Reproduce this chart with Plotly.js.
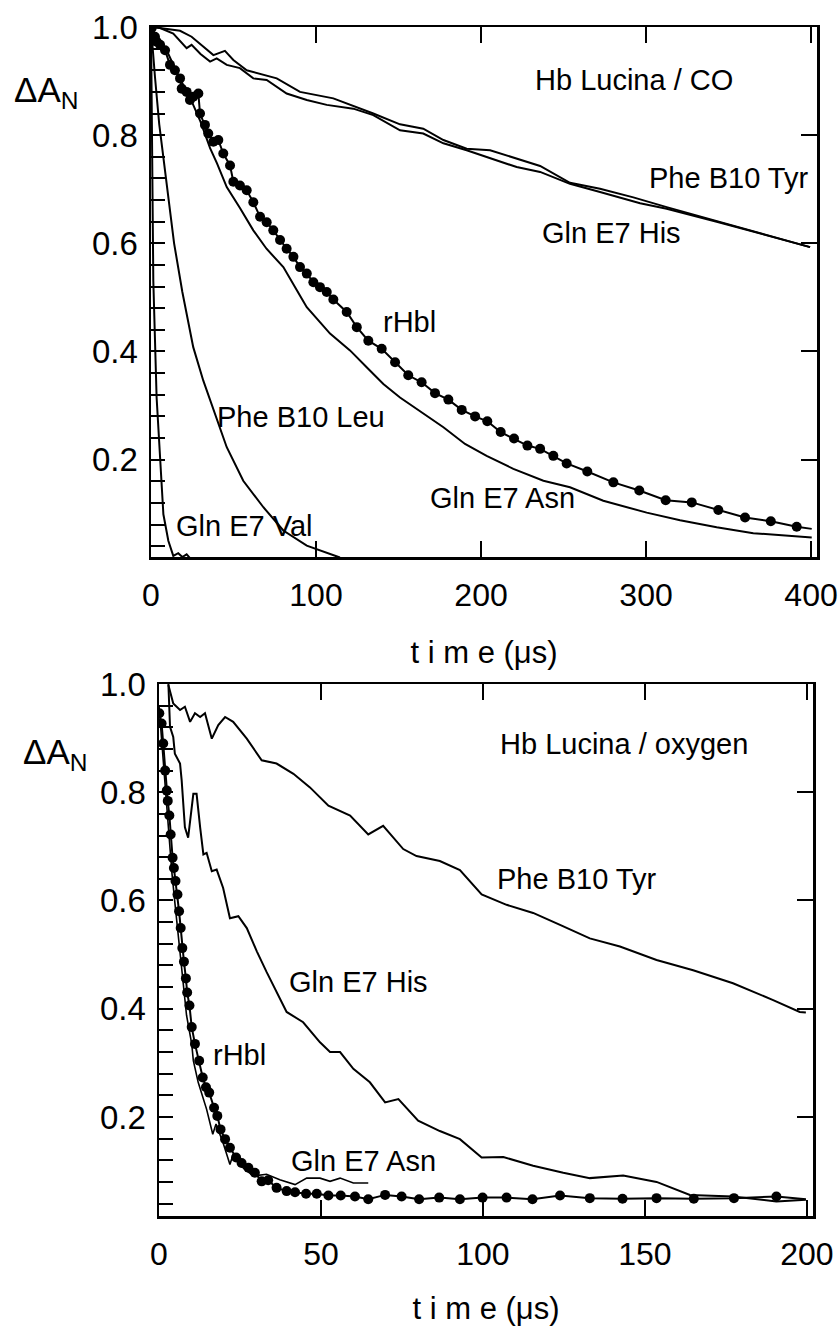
<!DOCTYPE html>
<html>
<head>
<meta charset="utf-8">
<script src="https://cdn.plot.ly/plotly-3.0.1.min.js"></script>
<style>html,body{margin:0;padding:0;background:#fff;}#chart{width:840px;height:1326px;}</style>
</head>
<body>
<div id="chart"></div>
<script>
// ---------- Top panel: Hb Lucina / CO ----------
const co_tyr_t = [1, 5.5, 17.6, 24.6, 31.7, 37.8, 44.8, 49.9, 58, 76.2, 90.3, 110.5, 134.7, 150.9, 165, 177.2, 191.3, 205.5, 235.8, 253.9, 272.1, 292.3, 312.5, 342.8, 399.4];
const co_tyr_y = [1.0, 0.998, 0.993, 0.982, 0.964, 0.948, 0.956, 0.939, 0.920, 0.905, 0.880, 0.868, 0.840, 0.820, 0.812, 0.791, 0.775, 0.772, 0.743, 0.712, 0.701, 0.685, 0.667, 0.641, 0.593];

const co_his_t = [1, 5.5, 13.5, 21.6, 24.6, 30, 35.8, 39.8, 45.9, 53.9, 62, 70.1, 82.2, 94.4, 106.5, 122.6, 134.7, 150.9, 165, 177.2, 191.3, 221.6, 235.8, 253.9, 272.1, 296.4, 312.5, 342.8, 399.4];
const co_his_y = [1.0, 0.998, 0.988, 0.961, 0.967, 0.950, 0.936, 0.942, 0.930, 0.924, 0.905, 0.902, 0.877, 0.865, 0.856, 0.849, 0.837, 0.809, 0.803, 0.785, 0.772, 0.741, 0.732, 0.710, 0.695, 0.674, 0.664, 0.640, 0.593];

const co_rhbl_t = [0.4, 2.4, 3.4, 5.5, 8.5, 11.5, 14.5, 17.6, 18.6, 21.6, 23.6, 25.6, 28.7, 29.7, 32.7, 34.7, 37.8, 40.8, 43.8, 47.9, 49.9, 53.9, 58, 62, 66.1, 70.1, 74.1, 78.2, 82.2, 86.3, 90.3, 94.4, 98.4, 102.4, 106.5, 110.5, 118.6, 124.7, 131.7, 139.8, 147.9, 155.9, 164, 172.1, 180.2, 188.3, 196.4, 203.8, 211.9, 220, 228.1, 235.8, 243.8, 251.9, 264.4, 280.2, 295.9, 311.9, 327.7, 343.8, 360, 375.6, 391.3, 400.4];
const co_rhbl_y = [0.998, 0.982, 0.973, 0.967, 0.957, 0.930, 0.920, 0.905, 0.886, 0.880, 0.865, 0.871, 0.877, 0.840, 0.819, 0.803, 0.788, 0.791, 0.766, 0.744, 0.714, 0.707, 0.698, 0.676, 0.649, 0.639, 0.624, 0.606, 0.590, 0.575, 0.556, 0.544, 0.528, 0.519, 0.510, 0.496, 0.473, 0.445, 0.420, 0.405, 0.380, 0.356, 0.343, 0.323, 0.311, 0.292, 0.280, 0.271, 0.251, 0.239, 0.226, 0.220, 0.207, 0.193, 0.178, 0.158, 0.143, 0.125, 0.121, 0.107, 0.093, 0.086, 0.076, 0.072];

const co_asn_t = [0, 3, 9.5, 15, 20, 25, 30, 35.8, 40, 45.9, 54, 62, 70, 80.2, 91.3, 94.4, 108.5, 120.6, 130.7, 140.8, 150.9, 163, 177.2, 190.3, 203.4, 219.6, 237.8, 253.9, 274.1, 300.4, 320.6, 342.8, 365, 400.4];
const co_asn_y = [1.0, 0.98, 0.957, 0.92, 0.89, 0.86, 0.825, 0.776, 0.748, 0.704, 0.665, 0.624, 0.59, 0.556, 0.498, 0.482, 0.433, 0.402, 0.371, 0.340, 0.315, 0.290, 0.260, 0.229, 0.207, 0.183, 0.161, 0.149, 0.124, 0.102, 0.088, 0.075, 0.064, 0.056];

const co_leu_t = [0, 1, 2.4, 5, 9.5, 14, 19, 21.6, 25.6, 31.7, 38.8, 45.9, 55.9, 68.1, 80.2, 94.4, 114.5];
const co_leu_y = [1.0, 0.96, 0.908, 0.82, 0.711, 0.60, 0.51, 0.470, 0.408, 0.346, 0.285, 0.223, 0.161, 0.112, 0.069, 0.041, 0.019];

const co_val_t = [0, 0.5, 1.4, 3.4, 5.5, 7.5, 10.5, 13.5, 16.5, 19, 21.6, 23.6];
const co_val_y = [1.0, 0.85, 0.531, 0.315, 0.192, 0.099, 0.05, 0.022, 0.027, 0.02, 0.025, 0.018];

// ---------- Bottom panel: Hb Lucina / oxygen ----------
const o2_tyr_t = [2.9, 4.4, 6.5, 8, 9.6, 11.1, 12.7, 14.2, 16.3, 18.3, 20.4, 22.9, 27.1, 31.7, 36.3, 41.5, 46.6, 52.3, 59, 64.6, 69.2, 75.4, 79.5, 86.7, 92.9, 99.6, 107.3, 115.5, 123.8, 133, 142.3, 153.6, 164.9, 177.2, 189.6, 197.8, 199.7];
const o2_tyr_y = [0.998, 0.964, 0.952, 0.958, 0.930, 0.946, 0.939, 0.946, 0.899, 0.924, 0.939, 0.930, 0.899, 0.859, 0.853, 0.834, 0.809, 0.775, 0.757, 0.722, 0.738, 0.695, 0.682, 0.673, 0.656, 0.611, 0.592, 0.577, 0.555, 0.530, 0.515, 0.490, 0.471, 0.447, 0.416, 0.394, 0.393];

const o2_his_t = [2.9, 3.4, 4.4, 4.9, 6.5, 7, 8, 9, 10.6, 11.6, 12.7, 13.7, 14.7, 16.3, 17.8, 19.8, 21.9, 24.5, 27.1, 30.2, 33.2, 36.3, 39.4, 44.5, 49.7, 52.8, 55.9, 60, 65.1, 69.8, 73.9, 80, 86.7, 92.9, 99.6, 106.3, 115.5, 124.8, 133, 143.3, 153.6, 163.9, 177.2, 190.6, 199.7];
const o2_his_y = [1.0, 0.921, 0.902, 0.871, 0.853, 0.822, 0.735, 0.716, 0.797, 0.797, 0.735, 0.685, 0.688, 0.654, 0.657, 0.623, 0.567, 0.571, 0.549, 0.506, 0.468, 0.430, 0.394, 0.375, 0.338, 0.320, 0.320, 0.289, 0.264, 0.227, 0.233, 0.193, 0.174, 0.159, 0.125, 0.126, 0.110, 0.097, 0.087, 0.092, 0.080, 0.056, 0.053, 0.044, 0.047];

const o2_rhbl_t = [0.1, 0.8, 1.3, 1.9, 2.4, 2.7, 3.2, 3.6, 4.2, 4.6, 5.1, 5.7, 6.2, 6.7, 7.2, 7.7, 8.3, 8.7, 9.4, 10.1, 11.1, 12.4, 13.5, 14.5, 15.5, 17, 18, 19, 20.4, 21.9, 23.8, 25.5, 27.6, 29.6, 31.7, 33.7, 36.3, 39.4, 42, 45.4, 48.7, 52.3, 56.1, 60.5, 64.6, 69.8, 74.9, 80.3, 86.5, 92.9, 99.9, 107.3, 115.3, 123.8, 133, 143.1, 153.6, 165.1, 177.5, 190.6, 199.7];
const o2_rhbl_y = [0.946, 0.927, 0.890, 0.840, 0.803, 0.784, 0.757, 0.722, 0.679, 0.660, 0.636, 0.611, 0.580, 0.549, 0.512, 0.487, 0.456, 0.430, 0.406, 0.366, 0.335, 0.304, 0.273, 0.255, 0.245, 0.217, 0.202, 0.177, 0.159, 0.143, 0.125, 0.115, 0.106, 0.097, 0.081, 0.083, 0.069, 0.063, 0.061, 0.058, 0.058, 0.055, 0.055, 0.053, 0.048, 0.056, 0.053, 0.048, 0.051, 0.048, 0.051, 0.051, 0.048, 0.055, 0.050, 0.049, 0.050, 0.049, 0.050, 0.053, 0.048];

const o2_asn_t = [0, 1, 2, 3, 4, 5, 6, 7.3, 8.5, 10.1, 10.6, 12.1, 14.7, 16.6, 17.6, 19.8, 21.9, 22.9, 26, 29.1, 33.2, 37.3, 42, 45.6, 49.7, 52.8, 55.9, 60, 64.6];
const o2_asn_y = [0.96, 0.88, 0.80, 0.72, 0.65, 0.59, 0.53, 0.450, 0.388, 0.335, 0.304, 0.264, 0.214, 0.168, 0.187, 0.152, 0.112, 0.131, 0.106, 0.091, 0.094, 0.084, 0.075, 0.087, 0.087, 0.081, 0.087, 0.078, 0.078];

// tick labels
const yTickVals = [0.2, 0.4, 0.6, 0.8, 1.0];
const yTickText = ['0.2', '0.4', '0.6', '0.8', '1.0'];
const yRightTicks = [0.2, 0.4, 0.6, 0.8];
const coTimeTicks = [0, 100, 200, 300, 400];
const o2TimeTicks = [0, 50, 100, 150, 200];

const FONT = 'Liberation Sans, Arial, Helvetica, sans-serif';
const BLACK = '#000';

function line(x, y, xa, ya, w) {
  return {x: x, y: y, xaxis: xa, yaxis: ya, type: 'scatter', mode: 'lines',
          line: {color: BLACK, width: w}, hoverinfo: 'skip', showlegend: false};
}
function dotted(x, y, xa, ya, w, ms) {
  const sizes = x.map((v, i) => i === x.length - 1 ? 0 : ms);
  return {x: x, y: y, xaxis: xa, yaxis: ya, type: 'scatter', mode: 'lines+markers',
          line: {color: BLACK, width: w},
          marker: {color: BLACK, size: sizes, opacity: 1, line: {width: 0}},
          hoverinfo: 'skip', showlegend: false};
}
// empty carrier so the right-hand tick axes are drawn
function carrier(xa, ya) {
  return {x: [], y: [], xaxis: xa, yaxis: ya, type: 'scatter', mode: 'lines',
          hoverinfo: 'skip', showlegend: false};
}

const data = [
  line(co_tyr_t, co_tyr_y, 'x', 'y', 2),
  line(co_his_t, co_his_y, 'x', 'y', 2),
  line(co_asn_t, co_asn_y, 'x', 'y', 2),
  line(co_leu_t, co_leu_y, 'x', 'y', 2),
  line(co_val_t, co_val_y, 'x', 'y', 2),
  dotted(co_rhbl_t, co_rhbl_y, 'x', 'y', 2, 10),
  line(o2_tyr_t, o2_tyr_y, 'x2', 'y2', 2),
  line(o2_his_t, o2_his_y, 'x2', 'y2', 2),
  line(o2_asn_t, o2_asn_y, 'x2', 'y2', 1.6),
  dotted(o2_rhbl_t, o2_rhbl_y, 'x2', 'y2', 2, 10),
  carrier('x', 'y3'),
  carrier('x2', 'y4')
];

const W = 840, H = 1326;
const px2x = v => v / W;
const py2y = v => 1 - v / H;

function xAxis(domain, anchor, range, ticks) {
  return {domain: domain, anchor: anchor, range: range, tickmode: 'array', tickvals: ticks,
          ticks: 'inside', ticklen: 16, tickwidth: 2, tickcolor: BLACK,
          showline: true, linewidth: 2.5, linecolor: BLACK, mirror: 'ticks',
          showgrid: false, zeroline: false,
          tickfont: {family: FONT, size: 32, color: BLACK}, ticklabelstandoff: 8,
          title: {text: 't i m e (μs)', font: {family: FONT, size: 31, color: BLACK}, standoff: 30}};
}
function yAxis(domain, anchor, range) {
  return {domain: domain, anchor: anchor, range: range, tickmode: 'array',
          tickvals: yTickVals, ticktext: yTickText,
          ticks: 'inside', ticklen: 14, tickwidth: 2, tickcolor: BLACK,
          minor: {dtick: 0.04, tick0: 0, ticks: 'inside', ticklen: 14, tickwidth: 2, tickcolor: BLACK, showgrid: false},
          showline: true, linewidth: 2.5, linecolor: BLACK, mirror: true,
          showgrid: false, zeroline: false,
          tickfont: {family: FONT, size: 33, color: BLACK}, ticklabelstandoff: 4};
}
function yRight(over, anchor, range) {
  return {overlaying: over, anchor: anchor, side: 'right', range: range, tickmode: 'array',
          tickvals: yRightTicks, ticks: 'inside', ticklen: 16, tickwidth: 2, tickcolor: BLACK,
          showticklabels: false, showline: false, showgrid: false, zeroline: false};
}

const topX = [px2x(151), px2x(817)], topY = [py2y(557), py2y(27)];
const botX = [px2x(159), px2x(813)], botY = [py2y(1216), py2y(684)];
const topYR = [0.02, 1.0], botYR = [0.017, 1.0];

function lab(text, x, y, xa, ya) {
  return {text: text, x: x, y: y, xref: xa, yref: ya, showarrow: false,
          xanchor: 'center', yanchor: 'middle', font: {family: FONT, size: 29, color: BLACK}};
}

const annotations = [
  lab('Hb Lucina / CO', 292.7, 0.902, 'x', 'y'),
  lab('Phe B10 Tyr', 349.7, 0.720, 'x', 'y'),
  lab('Gln E7 His', 279.1, 0.619, 'x', 'y'),
  lab('rHbl', 156.4, 0.454, 'x', 'y'),
  lab('Phe B10 Leu', 91.2, 0.278, 'x', 'y'),
  lab('Gln E7 Asn', 213, 0.130, 'x', 'y'),
  lab('Gln E7 Val', 56.4, 0.078, 'x', 'y'),
  lab('Hb Lucina / oxygen', 143.5, 0.890, 'x2', 'y2'),
  lab('Phe B10 Tyr', 129, 0.639, 'x2', 'y2'),
  lab('Gln E7 His', 61.7, 0.450, 'x2', 'y2'),
  lab('rHbl', 25, 0.314, 'x2', 'y2'),
  lab('Gln E7 Asn', 63.1, 0.119, 'x2', 'y2'),
  {text: 'ΔA<sub>N</sub>', x: px2x(12), y: py2y(92), xref: 'paper', yref: 'paper', showarrow: false,
   xanchor: 'left', yanchor: 'middle', font: {family: FONT, size: 35, color: BLACK}},
  {text: 'ΔA<sub>N</sub>', x: px2x(21), y: py2y(754), xref: 'paper', yref: 'paper', showarrow: false,
   xanchor: 'left', yanchor: 'middle', font: {family: FONT, size: 35, color: BLACK}}
];

const layout = {
  width: W, height: H,
  margin: {l: 0, r: 0, t: 0, b: 0},
  paper_bgcolor: '#fff', plot_bgcolor: '#fff',
  showlegend: false,
  font: {family: FONT, color: BLACK},
  xaxis: xAxis(topX, 'y', [0, 403.6], coTimeTicks),
  yaxis: yAxis(topY, 'x', topYR),
  yaxis3: yRight('y', 'x', topYR),
  xaxis2: xAxis(botX, 'y2', [0, 201.9], o2TimeTicks),
  yaxis2: yAxis(botY, 'x2', botYR),
  yaxis4: yRight('y2', 'x2', botYR),
  annotations: annotations
};

Plotly.newPlot('chart', data, layout, {staticPlot: true, displayModeBar: false});
</script>
</body>
</html>
